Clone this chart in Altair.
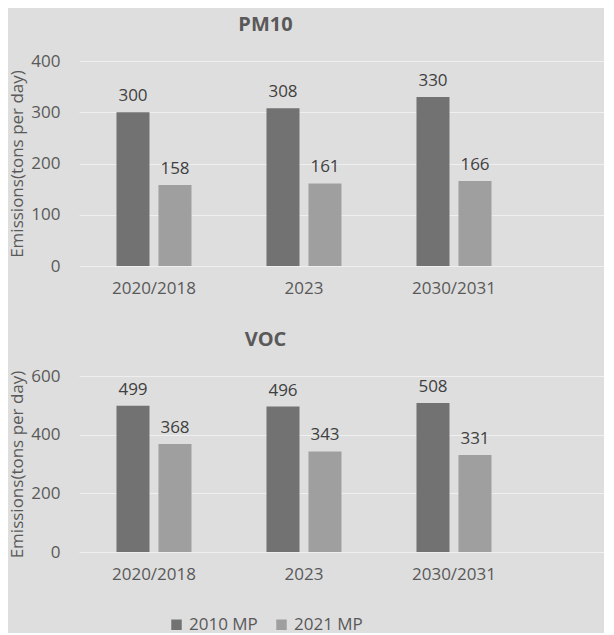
import altair as alt
import pandas as pd

years = ["2020/2018", "2023", "2030/2031"]
plans = ["2010 MP", "2021 MP"]
pm10_2010 = [300, 308, 330]
pm10_2021 = [158, 161, 166]
voc_2010 = [499, 496, 508]
voc_2021 = [368, 343, 331]
pm10_ticks = [0, 100, 200, 300, 400]
voc_ticks = [0, 200, 400, 600]
colors = ["#727272", "#9f9f9f"]

FONT = "Open Sans"
GREY = "#595959"


def frame(a, b):
    rows = []
    for i, y in enumerate(years):
        rows.append({"year": y, "plan": plans[0], "value": a[i]})
        rows.append({"year": y, "plan": plans[1], "value": b[i]})
    return pd.DataFrame(rows)


def panel(df, title, ticks, h):
    base = alt.Chart(df).encode(
        x=alt.X("year:N", sort=years, title=None,
                scale=alt.Scale(paddingInner=0.44, paddingOuter=0.47, align=0.234),
                axis=alt.Axis(labelAngle=0, domain=False, ticks=False, labelPadding=14,
                              grid=False, labelFontSize=17, labelColor=GREY, labelFont=FONT)),
        xOffset=alt.XOffset("plan:N", sort=plans,
                            scale=alt.Scale(paddingInner=0.214, paddingOuter=0.107)),
        y=alt.Y("value:Q", scale=alt.Scale(domain=[ticks[0], ticks[-1]]),
                title="Emissions(tons per day)",
                axis=alt.Axis(values=ticks, domain=False, ticks=False, labelPadding=19,
                              gridColor="#efefef", gridWidth=1, labelFontSize=17,
                              labelColor=GREY, labelFont=FONT, titleFont=FONT,
                              titleFontSize=17, titleColor=GREY, titleFontWeight="normal",
                              titlePadding=4)),
    )
    bars = base.mark_bar().encode(
        color=alt.Color("plan:N", sort=plans,
                        scale=alt.Scale(domain=plans, range=colors),
                        legend=alt.Legend(title=None, orient="none", direction="horizontal",
                                          legendX=89, legendY=555, symbolType="square",
                                          symbolSize=110, symbolStrokeWidth=0,
                                          labelFontSize=17, labelFont=FONT, labelColor=GREY,
                                          columnPadding=15, symbolOpacity=1))
    )
    text = base.mark_text(dy=-11, baseline="alphabetic", fontSize=17, font=FONT,
                          color="#404040").encode(text="value:Q")
    return alt.layer(bars, text).properties(
        width=525, height=h,
        title=alt.TitleParams(title, fontSize=20, font=FONT, fontWeight="bold",
                              color=GREY, anchor="middle", dx=-76, offset=17),
    )


chart = alt.vconcat(
    panel(frame(pm10_2010, pm10_2021), "PM10", pm10_ticks, 205),
    panel(frame(voc_2010, voc_2021), "VOC", voc_ticks, 176),
    spacing=34,
).properties(
    background="#dedede",
    padding={"left": 0, "top": 7, "right": 0, "bottom": 0},
).configure_view(stroke=None)

chart.save("out.html", embed_options={"renderer": "svg", "actions": False})
